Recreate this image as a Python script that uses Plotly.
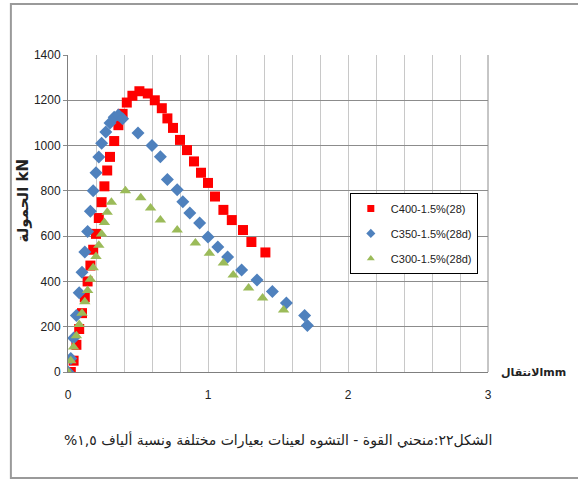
import plotly.graph_objects as go

# Load-displacement readings (displacement in mm, load in kN)
c400_disp = [0.02, 0.04, 0.06, 0.08, 0.10, 0.12, 0.14, 0.16, 0.18, 0.20, 0.22, 0.24, 0.26, 0.28,
             0.30, 0.33, 0.36, 0.39, 0.42, 0.46, 0.51, 0.57, 0.62, 0.67, 0.71, 0.75, 0.80, 0.85,
             0.90, 0.95, 1.00, 1.05, 1.11, 1.17, 1.25, 1.31, 1.41]
c400_load = [0, 50, 120, 190, 260, 330, 400, 470, 540, 610, 680, 750, 820, 890,
             950, 1020, 1090, 1140, 1190, 1220, 1240, 1230, 1200, 1165, 1120, 1078, 1025, 980,
             930, 880, 835, 775, 716, 671, 627, 574, 528]

c350_disp = [0.00, 0.02, 0.04, 0.06, 0.08, 0.10, 0.12, 0.14, 0.16, 0.18, 0.20, 0.22, 0.24, 0.27,
             0.30, 0.33, 0.36, 0.39, 0.50, 0.60, 0.66, 0.71, 0.78, 0.82, 0.87, 0.94, 1.00, 1.07,
             1.14, 1.24, 1.35, 1.46, 1.56, 1.69, 1.71]
c350_load = [0, 60, 150, 250, 350, 440, 530, 620, 710, 800, 880, 950, 1010, 1060,
             1100, 1125, 1135, 1118, 1055, 1000, 951, 850, 805, 752, 702, 658, 596, 552,
             508, 450, 406, 355, 305, 250, 205]

c300_disp = [0.00, 0.02, 0.04, 0.06, 0.08, 0.10, 0.12, 0.14, 0.16, 0.18, 0.20, 0.22, 0.24, 0.26,
             0.28, 0.31, 0.41, 0.52, 0.59, 0.66, 0.78, 0.91, 1.01, 1.11, 1.18, 1.29, 1.39, 1.54]
c300_load = [0, 50, 110, 160, 210, 260, 310, 360, 410, 460, 510, 560, 610, 660,
             705, 750, 800, 770, 724, 671, 627, 570, 525, 481, 428, 371, 327, 274]

series_names = ["C400-1.5%(28)", "C350-1.5%(28d)", "C300-1.5%(28d)"]

x_ticks = [0, 1, 2, 3]
y_ticks = [0, 200, 400, 600, 800, 1000, 1200, 1400]

font_family = "Liberation Sans Narrow, Liberation Sans, Arial, sans-serif"
arabic_font = "DejaVu Sans, sans-serif"

series = [
    (c400_disp, c400_load, "square", "#ff0000"),
    (c350_disp, c350_load, "diamond", "#4f81bd"),
    (c300_disp, c300_load, "triangle-up", "#9bbb59"),
]

fig = go.Figure()
for name, (xs, ys, sym, col) in zip(series_names, series):
    fig.add_trace(go.Scatter(x=xs, y=ys, mode="markers", name=name, showlegend=False,
                             legendgroup=name,
                             marker=dict(symbol=sym, size=10, color=col)))
# legend entries use smaller symbols than the plotted markers
for name, (xs, ys, sym, col) in zip(series_names, series):
    fig.add_trace(go.Scatter(x=[None], y=[None], mode="markers", name=name,
                             legendgroup=name, showlegend=True,
                             marker=dict(symbol=sym, size=7, color=col)))

fig.update_layout(
    width=578, height=483,
    margin=dict(l=68, r=90, t=55, b=111),
    paper_bgcolor="white", plot_bgcolor="white",
    font=dict(family=font_family, size=12, color="#222222"),
    showlegend=True,
    legend=dict(x=0.671, y=0.565, xanchor="left", yanchor="top",
                bgcolor="white", bordercolor="#000000", borderwidth=1,
                font=dict(size=11, family=font_family), itemsizing="trace",
                tracegroupgap=6, itemwidth=30),
    xaxis=dict(range=[0, 3], tickvals=x_ticks, ticktext=[str(v) for v in x_ticks],
               showgrid=True, gridcolor="#c8c8c8", gridwidth=1,
               minor=dict(dtick=0.2, showgrid=True, gridcolor="#c8c8c8", gridwidth=1),
               showline=True, linecolor="#7f7f7f", linewidth=1, mirror=False,
               zeroline=False, ticks="", ticklabelstandoff=12,
               tickfont=dict(size=12)),
    yaxis=dict(range=[0, 1400], tickvals=y_ticks, ticktext=[str(v) for v in y_ticks],
               showgrid=True, gridcolor="#8c8c8c", gridwidth=1,
               showline=True, linecolor="#7f7f7f", linewidth=1,
               zeroline=False, ticks="outside", ticklen=4, tickcolor="#8c8c8c",
               tickfont=dict(size=12)),
)

# right border of the plotting area
fig.add_shape(type="line", xref="paper", yref="paper", x0=1, x1=1, y0=0, y1=1,
              line=dict(color="#8c8c8c", width=1))

# outer frame around the figure
fig.add_shape(type="rect", xref="paper", yref="paper",
              x0=-0.136, x1=1.23, y0=-0.334, y1=1.161,
              line=dict(color="#9a9a9a", width=2), layer="below")

# axis titles
fig.add_annotation(xref="paper", yref="paper", x=-0.108, y=0.54, text="<b>الحمولة kN</b>",
                   textangle=-90, showarrow=False, font=dict(size=15, family=arabic_font),
                   xanchor="center", yanchor="middle")
fig.add_annotation(xref="paper", yref="paper", x=1.025, y=0.0, text="<b>الانتقالmm</b>",
                   showarrow=False, font=dict(size=11, family=arabic_font),
                   xanchor="left", yanchor="middle")
caption = "\u202bالشكل٢٢:منحني القوة - التشوه لعينات بعيارات مختلفة ونسبة ألياف ١,٥%\u202c"
fig.add_annotation(xref="paper", yref="paper", x=0.5, y=-0.215, text=caption,
                   showarrow=False, font=dict(size=14, family=arabic_font),
                   xanchor="center", yanchor="middle")

fig.write_html("out.html")
